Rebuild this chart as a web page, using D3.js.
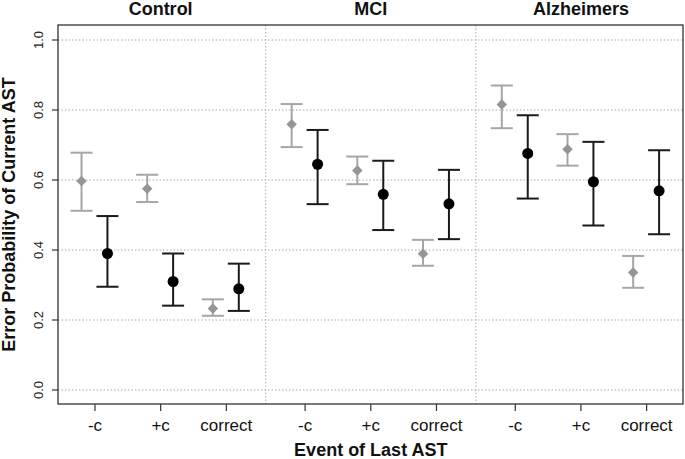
<!DOCTYPE html>
<html>
<head>
<meta charset="utf-8">
<script src="https://cdn.jsdelivr.net/npm/d3@7/dist/d3.min.js"></script>
<style>
  body { margin: 0; background: #fff; }
  svg { display: block; font-family: "Liberation Sans", Arial, sans-serif; }
</style>
</head>
<body>
<svg id="chart" width="685" height="459"></svg>
<script>
// ---- data ----
const groups = ["Control", "MCI", "Alzheimers"];
const events = ["-c", "+c", "correct"];
const yTicks = [0.0, 0.2, 0.4, 0.6, 0.8, 1.0];

// gray diamonds (first series): estimate, lower, upper per group x event
const grayMean  = [0.597, 0.575, 0.233,  0.759, 0.627, 0.389,  0.816, 0.688, 0.336];
const grayLow   = [0.512, 0.537, 0.212,  0.694, 0.588, 0.355,  0.748, 0.641, 0.292];
const grayHigh  = [0.678, 0.615, 0.259,  0.817, 0.667, 0.429,  0.870, 0.731, 0.383];

// black circles (second series)
const blackMean = [0.390, 0.310, 0.289,  0.645, 0.559, 0.532,  0.676, 0.595, 0.569];
const blackLow  = [0.295, 0.241, 0.226,  0.531, 0.457, 0.431,  0.547, 0.470, 0.445];
const blackHigh = [0.497, 0.390, 0.361,  0.743, 0.655, 0.629,  0.785, 0.709, 0.685];

// ---- layout ----
const svg = d3.select("#chart");
const L = 58, R = 683, T = 25, B = 404;
const x = d3.scaleLinear().domain([0.437, 9.954]).range([L, R]);
const y = d3.scaleLinear().domain([0, 1]).range([390, 40]);
const pos = (g, e) => g * 3.2 + e + 1;

const rows = [];
groups.forEach((g, gi) => events.forEach((ev, ei) => {
  const i = gi * 3 + ei;
  rows.push({ g, ev, gi, ei, p: pos(gi, ei),
    gm: grayMean[i], gl: grayLow[i], gh: grayHigh[i],
    bm: blackMean[i], bl: blackLow[i], bh: blackHigh[i] });
}));

// gridlines
const grid = svg.append("g").attr("stroke", "#aaa").attr("stroke-width", 1)
  .attr("stroke-dasharray", "1.5,2");
grid.selectAll("line.h").data(yTicks).join("line")
  .attr("x1", L).attr("x2", R)
  .attr("y1", d => y(d)).attr("y2", d => y(d));
grid.selectAll("line.v").data([3.6, 6.8]).join("line")
  .attr("x1", d => x(d)).attr("x2", d => x(d))
  .attr("y1", T).attr("y2", B);

// box
svg.append("rect").attr("x", L).attr("y", T).attr("width", R - L).attr("height", B - T)
  .attr("fill", "none").attr("stroke", "#333").attr("stroke-width", 1.3);

// y axis ticks + labels
const yAxis = svg.append("g");
yAxis.selectAll("line").data(yTicks).join("line")
  .attr("x1", L - 6).attr("x2", L).attr("y1", d => y(d)).attr("y2", d => y(d))
  .attr("stroke", "#333").attr("stroke-width", 1.2);
yAxis.selectAll("text").data(yTicks).join("text")
  .attr("transform", d => `translate(42.7,${y(d)}) rotate(-90)`)
  .attr("text-anchor", "middle").attr("font-size", 13).attr("fill", "#222")
  .text(d => d3.format(".1f")(d));

// x axis ticks + labels
const xAxis = svg.append("g");
xAxis.selectAll("line").data(rows).join("line")
  .attr("x1", d => x(d.p)).attr("x2", d => x(d.p)).attr("y1", B).attr("y2", B + 7)
  .attr("stroke", "#333").attr("stroke-width", 1.2);
xAxis.selectAll("text").data(rows).join("text")
  .attr("x", d => x(d.p)).attr("y", 431)
  .attr("text-anchor", "middle").attr("font-size", 17).attr("fill", "#111")
  .text(d => d.ev);

// panel titles
svg.selectAll("text.title").data(groups).join("text").attr("class", "title")
  .attr("x", (d, i) => x(pos(i, 1))).attr("y", 15)
  .attr("text-anchor", "middle").attr("font-size", 18).attr("font-weight", "bold")
  .attr("fill", "#111").text(d => d);

// axis titles
svg.append("text").attr("x", x(pos(1, 1))).attr("y", 456)
  .attr("text-anchor", "middle").attr("font-size", 18).attr("font-weight", "bold")
  .attr("fill", "#111").text("Event of Last AST");
svg.append("text").attr("transform", `translate(15,${(T + B) / 2}) rotate(-90)`)
  .attr("text-anchor", "middle").attr("font-size", 18).attr("font-weight", "bold")
  .attr("fill", "#111").text("Error Probability of Current AST");

// error bars
const cap = 11;
const gOff = -0.205, bOff = 0.19;
function whisker(sel, off, lo, hi, color) {
  const g = sel.append("g").attr("stroke", color).attr("stroke-width", 2);
  g.selectAll("line.s").data(rows).join("line")
    .attr("x1", d => x(d.p + off)).attr("x2", d => x(d.p + off))
    .attr("y1", d => y(d[lo])).attr("y2", d => y(d[hi]));
  g.selectAll("line.l").data(rows).join("line")
    .attr("x1", d => x(d.p + off) - cap).attr("x2", d => x(d.p + off) + cap)
    .attr("y1", d => y(d[lo])).attr("y2", d => y(d[lo]));
  g.selectAll("line.u").data(rows).join("line")
    .attr("x1", d => x(d.p + off) - cap).attr("x2", d => x(d.p + off) + cap)
    .attr("y1", d => y(d[hi])).attr("y2", d => y(d[hi]));
}
whisker(svg, gOff, "gl", "gh", "#a6a6a6");
svg.append("g").selectAll("path").data(rows).join("path")
  .attr("transform", d => `translate(${x(d.p + gOff)},${y(d.gm)})`)
  .attr("d", d3.symbol(d3.symbolDiamond2, 70)())
  .attr("fill", "#959595");
whisker(svg, bOff, "bl", "bh", "#1a1a1a");
svg.append("g").selectAll("circle").data(rows).join("circle")
  .attr("cx", d => x(d.p + bOff)).attr("cy", d => y(d.bm)).attr("r", 5.5)
  .attr("fill", "#000");
</script>
</body>
</html>
